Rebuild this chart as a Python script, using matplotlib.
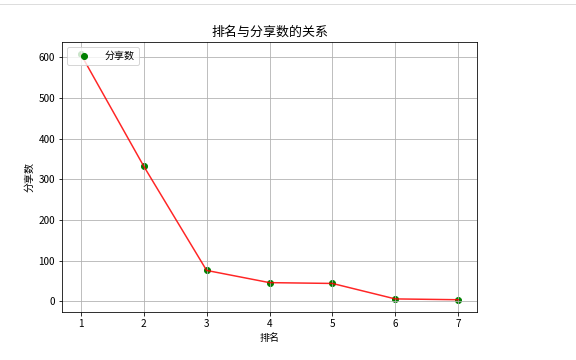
import matplotlib
matplotlib.use("Agg")
import matplotlib.pyplot as plt

plt.rcParams['font.family'] = ['Noto Sans CJK SC', 'DejaVu Sans']
plt.rcParams['axes.unicode_minus'] = False

# 排名 vs 分享数
rank = [1, 2, 3, 4, 5, 6, 7]
shares = [607, 332, 76, 46, 44, 6, 4]

fig = plt.figure(figsize=(8, 5), dpi=72)
ax = fig.add_axes([62 / 576, 48 / 360, 415 / 576, 270 / 360])

ax.plot(rank, shares, color='red', alpha=0.85)
ax.scatter(rank, shares, color='green', label='分享数')

ax.set_title('排名与分享数的关系', fontsize=13)
ax.set_xlabel('排名', fontsize=10)
ax.set_ylabel('分享数', fontsize=10)
ax.tick_params(labelsize=10)
ax.grid(True)
ax.legend(loc='upper left', handlelength=2.6, fontsize=10)

# top strip from the notebook screenshot
fig.add_artist(plt.Line2D([0, 1], [1 - 4 / 360, 1 - 4 / 360], color='#dddddd', lw=1))

fig.savefig('out.png', dpi=72)
